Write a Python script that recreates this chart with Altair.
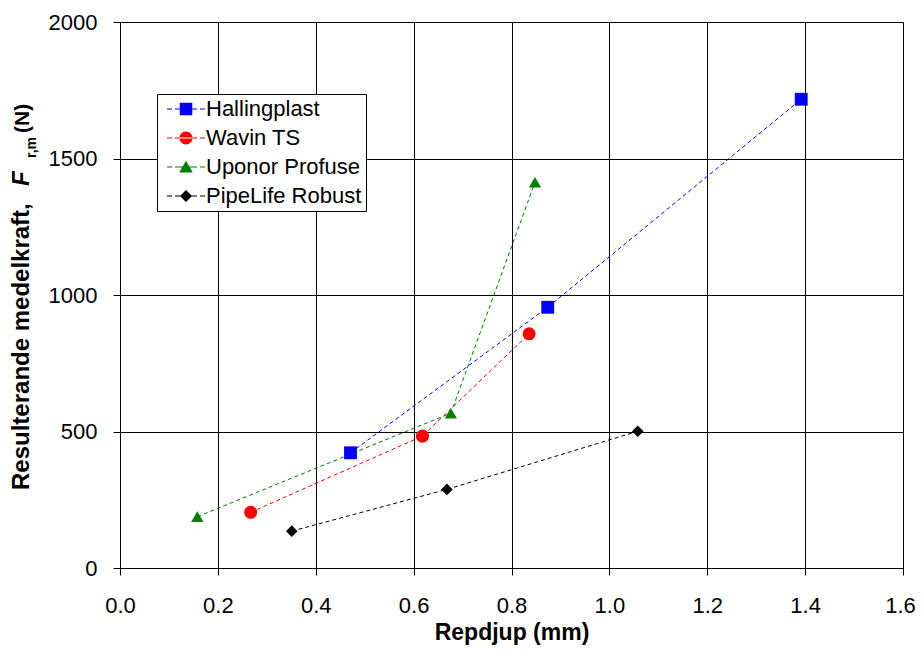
import altair as alt
import pandas as pd

series = ["Hallingplast", "Wavin TS", "Uponor Profuse", "PipeLife Robust"]
colors = ["#0000FF", "#FF0000", "#008000", "#000000"]
shapes = ["square", "circle", "triangle-up", "diamond"]
sizes = [165, 170, 150, 135]

hall_x = [0.471, 0.874, 1.392]
hall_y = [422, 955, 1717]
wavin_x = [0.267, 0.618, 0.836]
wavin_y = [204, 483, 858]
uponor_x = [0.158, 0.676, 0.848]
uponor_y = [188, 567, 1413]
pipe_x = [0.351, 0.668, 1.058]
pipe_y = [135, 288, 501]

x_ticks = [0.0, 0.2, 0.4, 0.6, 0.8, 1.0, 1.2, 1.4, 1.6]
y_ticks = [0, 500, 1000, 1500, 2000]

rows = []
for name, xs, ys in zip(series, [hall_x, wavin_x, uponor_x, pipe_x],
                        [hall_y, wavin_y, uponor_y, pipe_y]):
    for a, b in zip(xs, ys):
        rows.append({"serie": name, "x": a, "y": b})
df = pd.DataFrame(rows)

FONT = "Liberation Sans"
W, H = 783, 546

# legend symbols: dashed line with marker (unit box -1..1 = 10 px)
dash = ("M-3.8,-0.1H-2.8V0.1H-3.8Z M-2.2,-0.1H-1.2V0.1H-2.2Z "
        "M1.2,-0.1H2.2V0.1H1.2Z M2.8,-0.1H3.8V0.1H2.8Z M-1.2,-0.1H1.2V0.1H-1.2Z ")
leg_paths = [
    dash + "M-1.25,-1.25H1.25V1.25H-1.25Z",
    dash + "M-1.3,0A1.3,1.3 0 1,0 1.3,0A1.3,1.3 0 1,0 -1.3,0Z",
    dash + "M0,-1.25L1.35,1.1L-1.35,1.1Z",
    dash + "M0,-1.2L1.2,0L0,1.2L-1.2,0Z",
]

xs = alt.Scale(domain=[0, 1.6], nice=False, zero=False)
ys = alt.Scale(domain=[0, 2000], nice=False)

x_enc = alt.X("x:Q", scale=xs, axis=alt.Axis(
    values=x_ticks, format=".1f", title="Repdjup (mm)",
    labelFont=FONT, labelFontSize=22, labelColor="black", labelPadding=20,
    labelOffset={"condition": {"test": "datum.value > 1.55", "value": -3}, "value": 0},
    titleFont=FONT, titleFontSize=23, titleFontWeight="bold", titleColor="black",
    titlePadding=5, tickSize=7, tickColor="black", domainColor="black",
    gridColor="black", gridOpacity=1, gridWidth=1, labelFlush=False))
y_enc = alt.Y("y:Q", scale=ys, axis=alt.Axis(
    values=y_ticks, format="d", title=None,
    labelFont=FONT, labelFontSize=22, labelColor="black", labelPadding=16,
    tickSize=7, tickColor="black", domainColor="black",
    gridColor="black", gridOpacity=1, gridWidth=1))

legend_props = dict(title=None, orient="none", legendX=37, legendY=72,
                    labelFont=FONT, labelFontSize=22, labelColor="black",
                    symbolSize=100, symbolOpacity=1, symbolOffset=14,
                    labelOffset=9, rowPadding=7, padding=4,
                    strokeColor="black", fillColor="white",
                    symbolStrokeWidth=0, labelLimit=300)

legend_layer = alt.Chart(df).mark_point(filled=True, opacity=0).encode(
    x=x_enc, y=y_enc,
    color=alt.Color("serie:N", scale=alt.Scale(domain=series, range=colors),
                    legend=alt.Legend(**legend_props)),
    shape=alt.Shape("serie:N", scale=alt.Scale(domain=series, range=leg_paths),
                    legend=alt.Legend(**legend_props)),
)

line_layers = []
point_layers = []
for name, col, shp, sz in zip(series, colors, shapes, sizes):
    line_layers.append(
        alt.Chart(df).transform_filter(alt.datum.serie == name).mark_line(
            strokeDash=[4, 3], strokeWidth=1, color=col).encode(x="x:Q", y="y:Q"))
    point_layers.append(
        alt.Chart(df).transform_filter(alt.datum.serie == name).mark_point(
            filled=True, shape=shp, size=sz, color=col, opacity=1).encode(x="x:Q", y="y:Q"))

one = pd.DataFrame({"k": [0]})
def ytext(txt, xv, yv, size, style="normal"):
    return alt.Chart(one).mark_text(
        text=txt, angle=270, align="left", baseline="alphabetic",
        font=FONT, fontSize=size, fontWeight="bold", fontStyle=style, color="black"
    ).encode(x=alt.value(xv), y=alt.value(yv))

titles = [
    ytext("Resulterande medelkraft,", -91, 468, 24),
    ytext("F", -91, 164, 24, "italic"),
    ytext("r,m", -84, 136, 14),
    ytext("(N)", -91, 111, 21),
]

chart = alt.layer(legend_layer, *line_layers, *point_layers, *titles).properties(
    width=W, height=H,
    autosize=alt.AutoSizeParams(type="none"),
    padding={"left": 112, "top": 14, "right": 13, "bottom": 77},
).configure_view(stroke="black", strokeWidth=1).configure(background="white")

chart.save("out.html", embed_options={"renderer": "svg", "actions": False})
